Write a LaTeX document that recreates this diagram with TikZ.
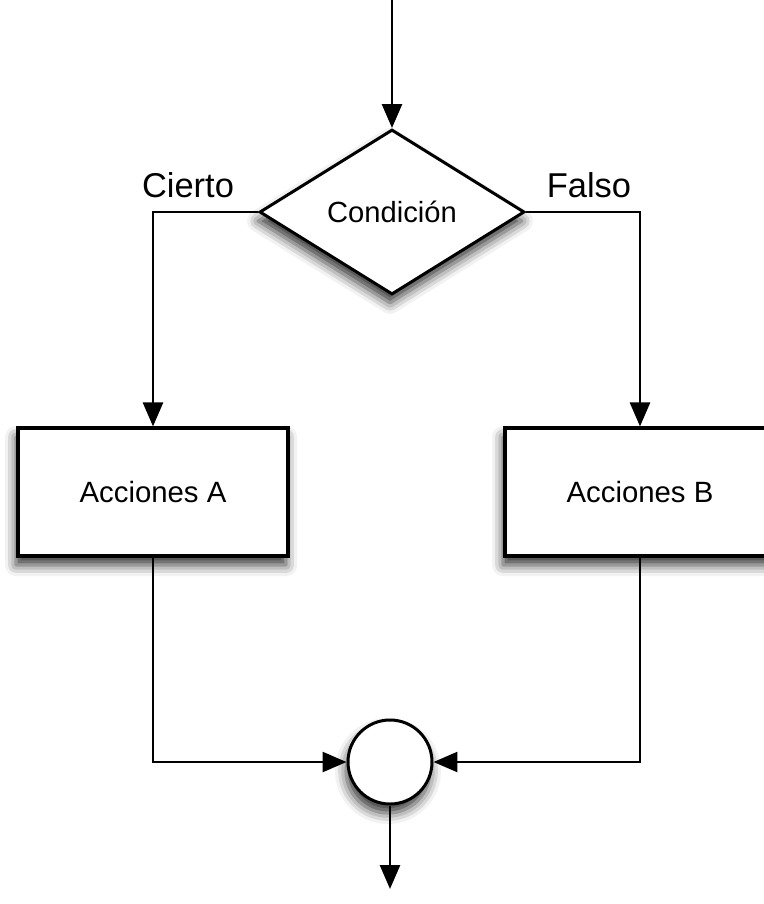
\documentclass[tikz,border=0pt]{standalone}
\usepackage{fontspec}
\setmainfont{Liberation Sans}
\usepackage{tikz}
\usetikzlibrary{shapes.geometric}
\usetikzlibrary{arrows.meta}
\usetikzlibrary{shadows.blur}

\tikzset{
  sombra/.style={blur shadow={shadow xshift=-0.4mm, shadow yshift=-1.8mm, shadow blur radius=2.2mm, shadow opacity=80}},
  flecha/.style={-{Triangle[length=4.8mm,width=4mm]}, line width=1.5pt},
  caja/.style={draw, line width=1.8pt, fill=white, sombra, minimum width=5.4cm, minimum height=2.56cm, font=\fontsize{16.7}{20}\selectfont},
  rombo/.style={draw, diamond, line width=1.7pt, fill=white, sombra, aspect=1.6, inner sep=0pt, minimum width=5.3cm, minimum height=3.3cm, font=\fontsize{16.6}{20}\selectfont},
  union/.style={draw, circle, line width=1.7pt, fill=white, sombra, minimum size=1.68cm, inner sep=0pt},
  etiqueta/.style={font=\fontsize{19.6}{22}\selectfont, inner sep=0pt}
}

\begin{document}
\begin{tikzpicture}[x=0.2mm, y=-0.2mm]
            \useasboundingbox (0,0) rectangle (764,904);

            % Entrada y salida
            \coordinate (entrada) at (392,0);
            \coordinate (salida) at (390,889);

            % Condicion
            \node[rombo] (cond) at (392,212) {Condición};
            \node[etiqueta] (cierto) at (188,185) {Cierto};
            \node[etiqueta] (falso) at (589,185) {Falso};

            % Acciones
            \node[caja] (accA) at (153,492) {Acciones A};
            \node[caja] (accB) at (640,492) {Acciones B};

            % Punto de union
            \node[union] (junta) at (390,762) {};

            % Conexiones
            \draw[flecha] (entrada) -- (cond.north);
            \draw[flecha] (cond.west) -| (accA.north);
            \draw[flecha] (cond.east) -| (accB.north);
            \draw[flecha] (accA.south) |- (junta.west);
            \draw[flecha] (accB.south) |- (junta.east);
            \draw[flecha] (junta.south) -- (salida);
        \end{tikzpicture}
\end{document}
